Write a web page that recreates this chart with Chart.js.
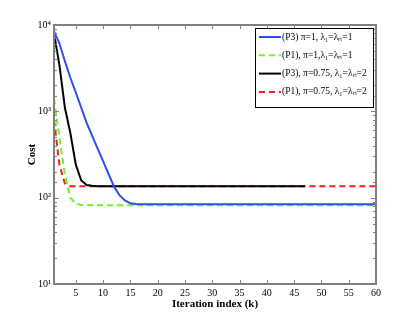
<!DOCTYPE html>
<html lang="en">
<head>
<meta charset="UTF-8">
<title>Cost vs iteration index</title>
<script src="https://cdn.jsdelivr.net/npm/chart.js"></script>
<style>
  html, body { margin: 0; padding: 0; background: #fff; }
</style>
</head>
<body>
<canvas id="costChart" width="415" height="319"></canvas>
<script>
// iteration index k
const iterations = [1, 2, 3, 4, 5, 6, 7, 8, 9, 10, 11, 12, 13, 14, 15, 16, 17, 18, 19, 20,
  21, 22, 23, 24, 25, 26, 27, 28, 29, 30, 31, 32, 33, 34, 35, 36, 37, 38, 39, 40,
  41, 42, 43, 44, 45, 46, 47, 48, 49, 50, 51, 52, 53, 54, 55, 56, 57, 58, 59, 60];

// (P3) pi=1
const p3Pi1 = [8500, 6100, 3800, 2450, 1650, 1100, 730, 520, 370, 265, 188, 134, 107, 93, 86, 84.5, 84, 84, 84, 84,
  84, 84, 84, 84, 84, 84, 84, 84, 84, 84, 84, 84, 84, 84, 84, 84, 84, 84, 84, 84,
  84, 84, 84, 84, 84, 84, 84, 84, 84, 84, 84, 84, 84, 84, 84, 84, 84, 84, 84, 84];
// (P1) pi=1
const p1Pi1 = [1400, 490, 185, 100, 85, 82.5, 82, 81.5, 81.5, 81.5, 81.5, 81.5, 81.5, 81.5, 81.5, 81.5, 81.5, 81.5, 81.5, 81.5,
  81.5, 81.5, 81.5, 81.5, 81.5, 81.5, 81.5, 81.5, 81.5, 81.5, 81.5, 81.5, 81.5, 81.5, 81.5, 81.5, 81.5, 81.5, 81.5, 81.5,
  81.5, 81.5, 81.5, 81.5, 81.5, 81.5, 81.5, 81.5, 81.5, 81.5, 81.5, 81.5, 81.5, 81.5, 81.5, 81.5, 81.5, 81.5, 81.5, 81.5];
// (P3) pi=0.75 (stops at k=47)
const p3Pi075 = [8000, 3400, 1100, 560, 240, 158, 140, 137, 136, 136, 136, 136, 136, 136, 136, 136, 136, 136, 136, 136,
  136, 136, 136, 136, 136, 136, 136, 136, 136, 136, 136, 136, 136, 136, 136, 136, 136, 136, 136, 136,
  136, 136, 136, 136, 136, 136, 136, null, null, null, null, null, null, null, null, null, null, null, null, null];
// (P1) pi=0.75
const p1Pi075 = [800, 240, 146, 136, 136, 136, 136, 136, 136, 136, 136, 136, 136, 136, 136, 136, 136, 136, 136, 136,
  136, 136, 136, 136, 136, 136, 136, 136, 136, 136, 136, 136, 136, 136, 136, 136, 136, 136, 136, 136,
  136, 136, 136, 136, 136, 136, 136, 136, 136, 136, 136, 136, 136, 136, 136, 136, 136, 136, 136, 136];

const seriesLabels = [
  '(P3) \u03c0=1, \u03bb\u2081=\u03bb\u2099=1',
  '(P1), \u03c0=1,\u03bb\u2081=\u03bb\u2099=1',
  '(P3), \u03c0=0.75, \u03bb\u2081=\u03bb\u2099=2',
  '(P1), \u03c0=0.75, \u03bb\u2081=\u03bb\u2099=2'
];

const xTicks = [5, 10, 15, 20, 25, 30, 35, 40, 45, 50, 55, 60];
const yTickValues = [10, 100, 1000, 10000];
const yTickLabels = ['10\u00b9', '10\u00b2', '10\u00b3', '10\u2074'];

const serif = "'Liberation Serif', 'Times New Roman', serif";
const axisGrey = '#7f7f7f';

// MATLAB-like box with inward ticks, plus axis titles
const framePlugin = {
  id: 'frame',
  afterDatasetsDraw(chart) {
    const { ctx, chartArea: a, scales: { x, y } } = chart;
    ctx.save();
    ctx.strokeStyle = axisGrey;
    ctx.lineWidth = 1;
    xTicks.forEach(v => {
      const px = Math.round(x.getPixelForValue(v)) + 0.5;
      ctx.beginPath();
      ctx.moveTo(px, a.bottom); ctx.lineTo(px, a.bottom - 4);
      ctx.moveTo(px, a.top); ctx.lineTo(px, a.top + 4);
      ctx.stroke();
    });
    y.ticks.forEach(t => {
      const major = yTickValues.includes(t.value);
      const len = major ? 5 : 3;
      const py = Math.round(y.getPixelForValue(t.value)) + 0.5;
      ctx.beginPath();
      ctx.moveTo(a.left, py); ctx.lineTo(a.left + len, py);
      ctx.moveTo(a.right, py); ctx.lineTo(a.right - len, py);
      ctx.stroke();
    });
    ctx.lineWidth = 2;
    ctx.strokeRect(a.left, a.top, a.right - a.left, a.bottom - a.top);

    ctx.fillStyle = '#000';
    ctx.font = 'bold 11px ' + serif;
    ctx.textAlign = 'center';
    ctx.textBaseline = 'middle';
    ctx.fillText('Iteration index (k)', (a.left + a.right) / 2, 304);
    ctx.translate(32, (a.top + a.bottom) / 2);
    ctx.rotate(-Math.PI / 2);
    ctx.fillText('Cost', 0, 0);
    ctx.restore();
  }
};

// boxed legend in the upper right of the plot
const legendPlugin = {
  id: 'boxLegend',
  afterDraw(chart) {
    const { ctx } = chart;
    const bx = 255, by = 28, bw = 118, bh = 79;
    ctx.save();
    ctx.fillStyle = '#fff';
    ctx.fillRect(bx, by, bw, bh);
    ctx.strokeStyle = '#000';
    ctx.lineWidth = 1;
    ctx.strokeRect(bx + 0.5, by + 0.5, bw, bh);
    ctx.font = '9.5px ' + serif;
    ctx.textBaseline = 'middle';
    chart.data.datasets.forEach((ds, i) => {
      const ly = by + 9 + i * 18.3;
      ctx.strokeStyle = ds.borderColor;
      ctx.lineWidth = ds.borderWidth;
      ctx.setLineDash(ds.borderDash || []);
      ctx.beginPath();
      ctx.moveTo(bx + 4, ly); ctx.lineTo(bx + 26, ly);
      ctx.stroke();
      ctx.setLineDash([]);
      ctx.fillStyle = '#000';
      ctx.fillText(ds.label, bx + 27, ly);
    });
    ctx.restore();
  }
};

const ctx = document.getElementById('costChart').getContext('2d');
const chart = new Chart(ctx, {
  type: 'line',
  data: {
    labels: iterations,
    datasets: [
      { label: seriesLabels[0], data: p3Pi1, borderColor: '#2f4cf5', borderWidth: 2 },
      { label: seriesLabels[1], data: p1Pi1, borderColor: '#6ef51e', borderWidth: 2, borderDash: [6, 4] },
      { label: seriesLabels[2], data: p3Pi075, borderColor: '#000000', borderWidth: 2 },
      { label: seriesLabels[3], data: p1Pi075, borderColor: '#ff1a1a', borderWidth: 2, borderDash: [6, 4] }
    ]
  },
  options: {
    responsive: false,
    animation: false,
    devicePixelRatio: 1,
    layout: { padding: { left: 0, top: 25, right: 39, bottom: 0 } },
    elements: { point: { radius: 0 }, line: { tension: 0 } },
    plugins: { legend: { display: false }, tooltip: { enabled: false } },
    scales: {
      x: {
        type: 'linear', min: 1, max: 60,
        grid: { display: false, drawTicks: false }, border: { display: false },
        afterBuildTicks: s => { s.ticks = xTicks.map(v => ({ value: v })); },
        afterFit: s => { s.height = 35; },
        ticks: { color: '#000', font: { family: serif, size: 10 }, padding: 3, maxRotation: 0, autoSkip: false }
      },
      y: {
        type: 'logarithmic', min: 10, max: 10000,
        grid: { display: false, drawTicks: false }, border: { display: false },
        afterFit: s => { s.width = 54; },
        ticks: {
          color: '#000', font: { family: serif, size: 10 }, padding: 3, autoSkip: false,
          callback: v => { const i = yTickValues.indexOf(v); return i >= 0 ? yTickLabels[i] : ''; }
        }
      }
    }
  },
  plugins: [framePlugin, legendPlugin]
});
</script>
</body>
</html>
